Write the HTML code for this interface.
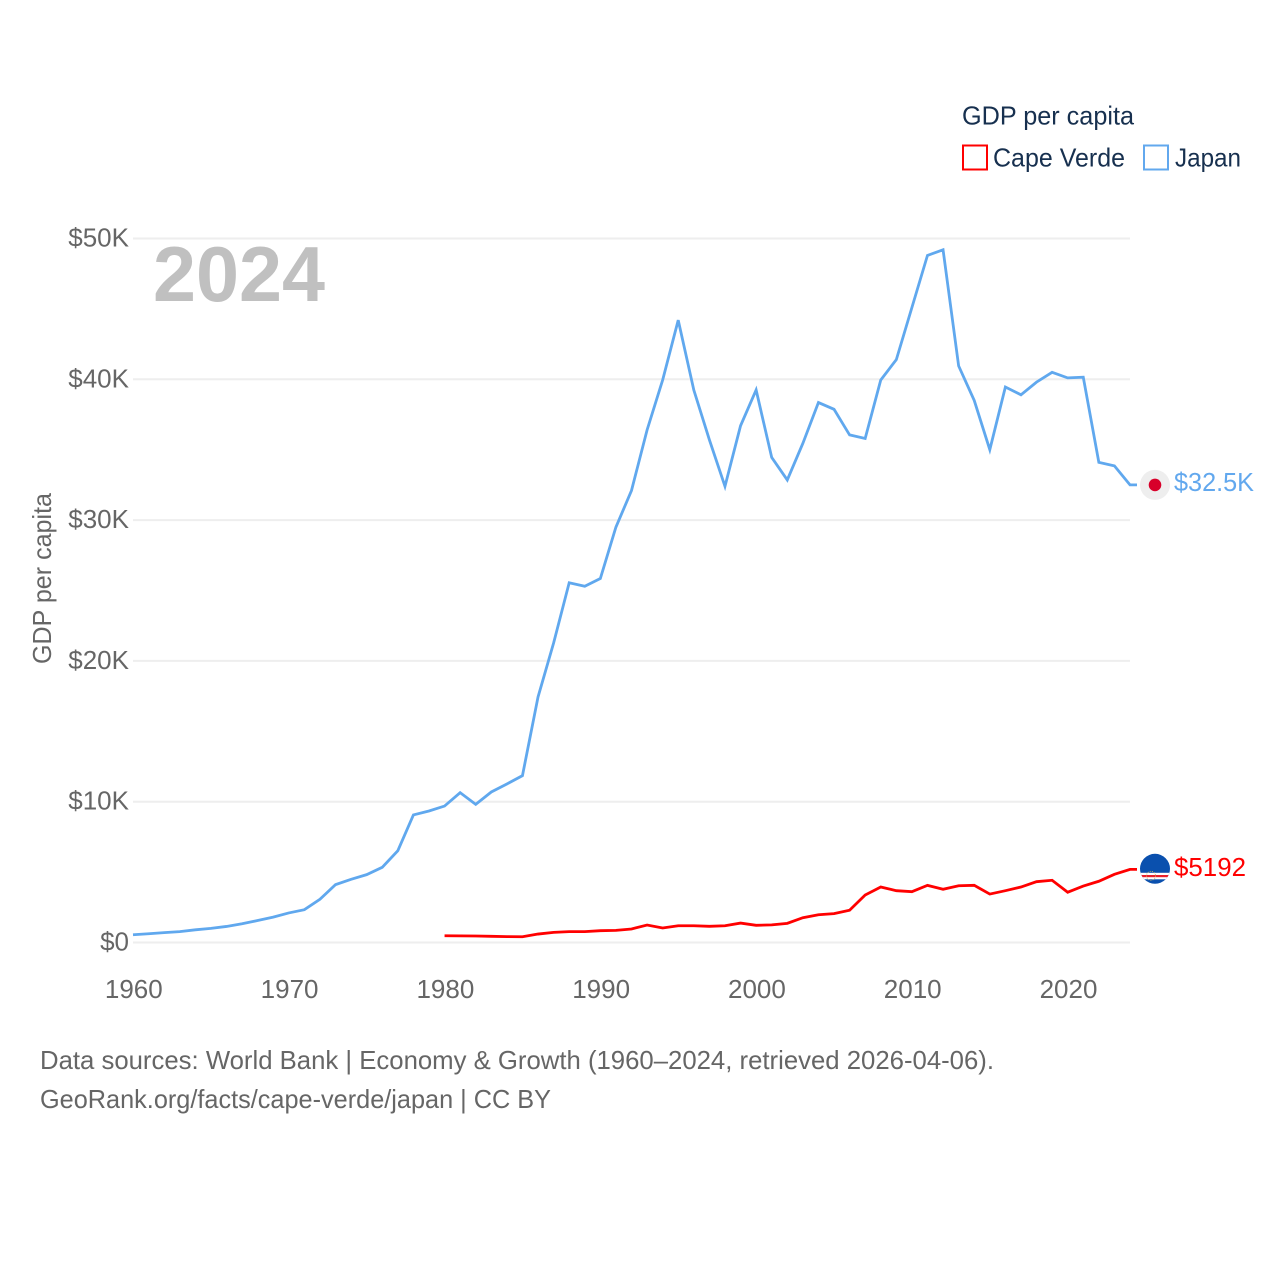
<!DOCTYPE html>
<html lang="en">
<head>
<meta charset="utf-8">
<title>GDP per capita: Cape Verde and Japan</title>
<style>
  html, body { margin: 0; padding: 0; background: #fff; }
  svg { display: block; font-family: "Liberation Sans", sans-serif; }
  text { font-size: 26px; }
</style>
</head>
<body>
<svg id="chart" width="1280" height="1280" viewBox="0 0 1280 1280" xmlns="http://www.w3.org/2000/svg">
  <rect width="1280" height="1280" fill="#fff"/>
  <g id="grid"></g>
  <g id="y-ticks"></g>
  <g id="x-ticks"></g>
  <text x="153" y="301" textLength="172" lengthAdjust="spacingAndGlyphs" style="font-size:78px;font-weight:bold" fill="#c0c0c0">2024</text>
  <text transform="translate(51,664) rotate(-90)" textLength="171" lengthAdjust="spacingAndGlyphs" fill="#666">GDP per capita</text>
  <g id="series"></g>
  <g id="end-markers"></g>
  <g>
    <text x="962" y="124.500" textLength="172" lengthAdjust="spacingAndGlyphs" fill="#17304f">GDP per capita</text>
    <g>
      <rect x="963" y="145.500" width="24" height="24" fill="#fff" stroke="#ff0000" stroke-width="2"/>
      <text x="993" y="166.500" textLength="132" lengthAdjust="spacingAndGlyphs" fill="#17304f">Cape Verde</text>
    </g>
    <g>
      <rect x="1144" y="145.500" width="24" height="24" fill="#fff" stroke="#62a8ee" stroke-width="2"/>
      <text x="1175" y="166.500" textLength="66" lengthAdjust="spacingAndGlyphs" fill="#17304f">Japan</text>
    </g>
  </g>
  <text x="40" y="1069" textLength="954" lengthAdjust="spacingAndGlyphs" fill="#666">Data sources: World Bank | Economy &amp; Growth (1960–2024, retrieved 2026-04-06).</text>
  <text x="40" y="1108" textLength="511" lengthAdjust="spacingAndGlyphs" fill="#666">GeoRank.org/facts/cape-verde/japan | CC BY</text>
</svg>
<script>
const japanStartYear = 1960;
const japanValues = [0.55,0.62,0.70,0.77,0.90,1.00,1.14,1.33,1.56,1.80,2.10,2.33,3.07,4.11,4.49,4.82,5.34,6.52,9.06,9.34,9.69,10.64,9.81,10.69,11.26,11.85,17.44,21.27,25.55,25.30,25.85,29.50,32.10,36.40,39.95,44.20,39.24,35.70,32.40,36.70,39.24,34.45,32.85,35.45,38.35,37.87,36.05,35.80,39.95,41.40,45.10,48.80,49.20,40.95,38.50,35.00,39.45,38.90,39.80,40.50,40.10,40.15,34.10,33.85,32.50];
const capeVerdeStartYear = 1980;
const capeVerdeValues = [0.48,0.47,0.46,0.44,0.42,0.41,0.60,0.72,0.77,0.77,0.84,0.86,0.96,1.24,1.03,1.19,1.19,1.15,1.19,1.38,1.22,1.25,1.36,1.76,1.97,2.05,2.29,3.37,3.94,3.68,3.61,4.06,3.78,4.03,4.06,3.44,3.68,3.94,4.32,4.42,3.57,4.01,4.35,4.84,5.192];
const yTickValues = [0,10,20,30,40,50];
const yTickLabels = ["$0","$10K","$20K","$30K","$40K","$50K"];
const xTickValues = [1960,1970,1980,1990,2000,2010,2020];
const japanEndLabel = "$32.5K";
const capeVerdeEndLabel = "$5192";

const SVG_NS = "http://www.w3.org/2000/svg";
const PLOT = { left: 133, right: 1130, top: 238.5, bottom: 942.5, xMin: 1960, xMax: 2024, yMax: 50 };
function xScale(year) {
  return PLOT.left + (year - PLOT.xMin) / (PLOT.xMax - PLOT.xMin) * (PLOT.right - PLOT.left);
}
function yScale(value) {
  return PLOT.bottom - value / PLOT.yMax * (PLOT.bottom - PLOT.top);
}
function make(tag, parent, attrs, content) {
  const el = document.createElementNS(SVG_NS, tag);
  for (const key in attrs) { el.setAttribute(key, attrs[key]); }
  if (content !== undefined) { el.textContent = content; }
  parent.appendChild(el);
  return el;
}
const gridGroup = document.getElementById("grid");
const yTickGroup = document.getElementById("y-ticks");
const xTickGroup = document.getElementById("x-ticks");
const seriesGroup = document.getElementById("series");
const markerGroup = document.getElementById("end-markers");

yTickValues.forEach(function (tick, i) {
  const y = yScale(tick);
  const line = make("line", gridGroup, { x1: PLOT.left, x2: PLOT.right, y1: y, y2: y, stroke: "#eeeeee", "stroke-width": 2 });
  
  
  const label = make("text", yTickGroup, { x: 129, y: y + 8, "text-anchor": "end", fill: "#666" }, yTickLabels[i]);
  
  
});

xTickValues.forEach(function (tick) {
  const label = make("text", xTickGroup, { x: xScale(tick) + 0.8, y: 998, "text-anchor": "middle", fill: "#666" }, String(tick));
  
  
});

function seriesPath(startYear, values) {
  const parts = values.map(function (v, i) {
    return (i === 0 ? "M" : "L") + xScale(startYear + i).toFixed(2) + " " + yScale(v).toFixed(2);
  });
  const last = values[values.length - 1];
  parts.push("L" + (xScale(startYear + values.length - 1) + 7).toFixed(2) + " " + yScale(last).toFixed(2));
  return parts.join(" ");
}

const japanLine = make("path", seriesGroup, { d: seriesPath(japanStartYear, japanValues), fill: "none", stroke: "#60a8ee", "stroke-width": 2.8, "stroke-linejoin": "miter" });



const capeVerdeLine = make("path", seriesGroup, { d: seriesPath(capeVerdeStartYear, capeVerdeValues), fill: "none", stroke: "#ff0000", "stroke-width": 2.8, "stroke-linejoin": "miter" });



/* Japan end marker */
const japanY = yScale(japanValues[japanValues.length - 1]);
const japanFlag = make("g", markerGroup, { transform: "translate(1155," + japanY.toFixed(2) + ")" });


make("circle", japanFlag, { r: 15, fill: "#eeeeee" });
make("circle", japanFlag, { r: 6.3, fill: "#d8002a" });
const japanLabel = make("text", markerGroup, { x: 1174, y: japanY + 6, fill: "#62a8ee", textLength: 80, lengthAdjust: "spacingAndGlyphs" }, japanEndLabel);



/* Cape Verde end marker */
const capeY = yScale(capeVerdeValues[capeVerdeValues.length - 1]);
const capeFlag = make("g", markerGroup, { transform: "translate(1155," + (capeY - 0.6).toFixed(2) + ")" });


const clip = make("clipPath", capeFlag, { id: "cape-clip" });
make("circle", clip, { r: 15 });
const capeInner = make("g", capeFlag, { "clip-path": "url(#cape-clip)" });
make("rect", capeInner, { x: -16, y: -16, width: 32, height: 32, fill: "#0a50ae" });
make("rect", capeInner, { x: -16, y: 4, width: 32, height: 6.5, fill: "#ffffff" });
make("rect", capeInner, { x: -16, y: 6.2, width: 32, height: 2.2, fill: "#e8202c" });
make("circle", capeInner, { cx: -4, cy: 7, r: 4.5, fill: "none", stroke: "#c9b36a", "stroke-width": 0.9, "stroke-dasharray": "1 1.2" });
const capeLabel = make("text", markerGroup, { x: 1174, y: capeY + 6.5, fill: "#ff0000", textLength: 72, lengthAdjust: "spacingAndGlyphs" }, capeVerdeEndLabel);


</script>
</body>
</html>
